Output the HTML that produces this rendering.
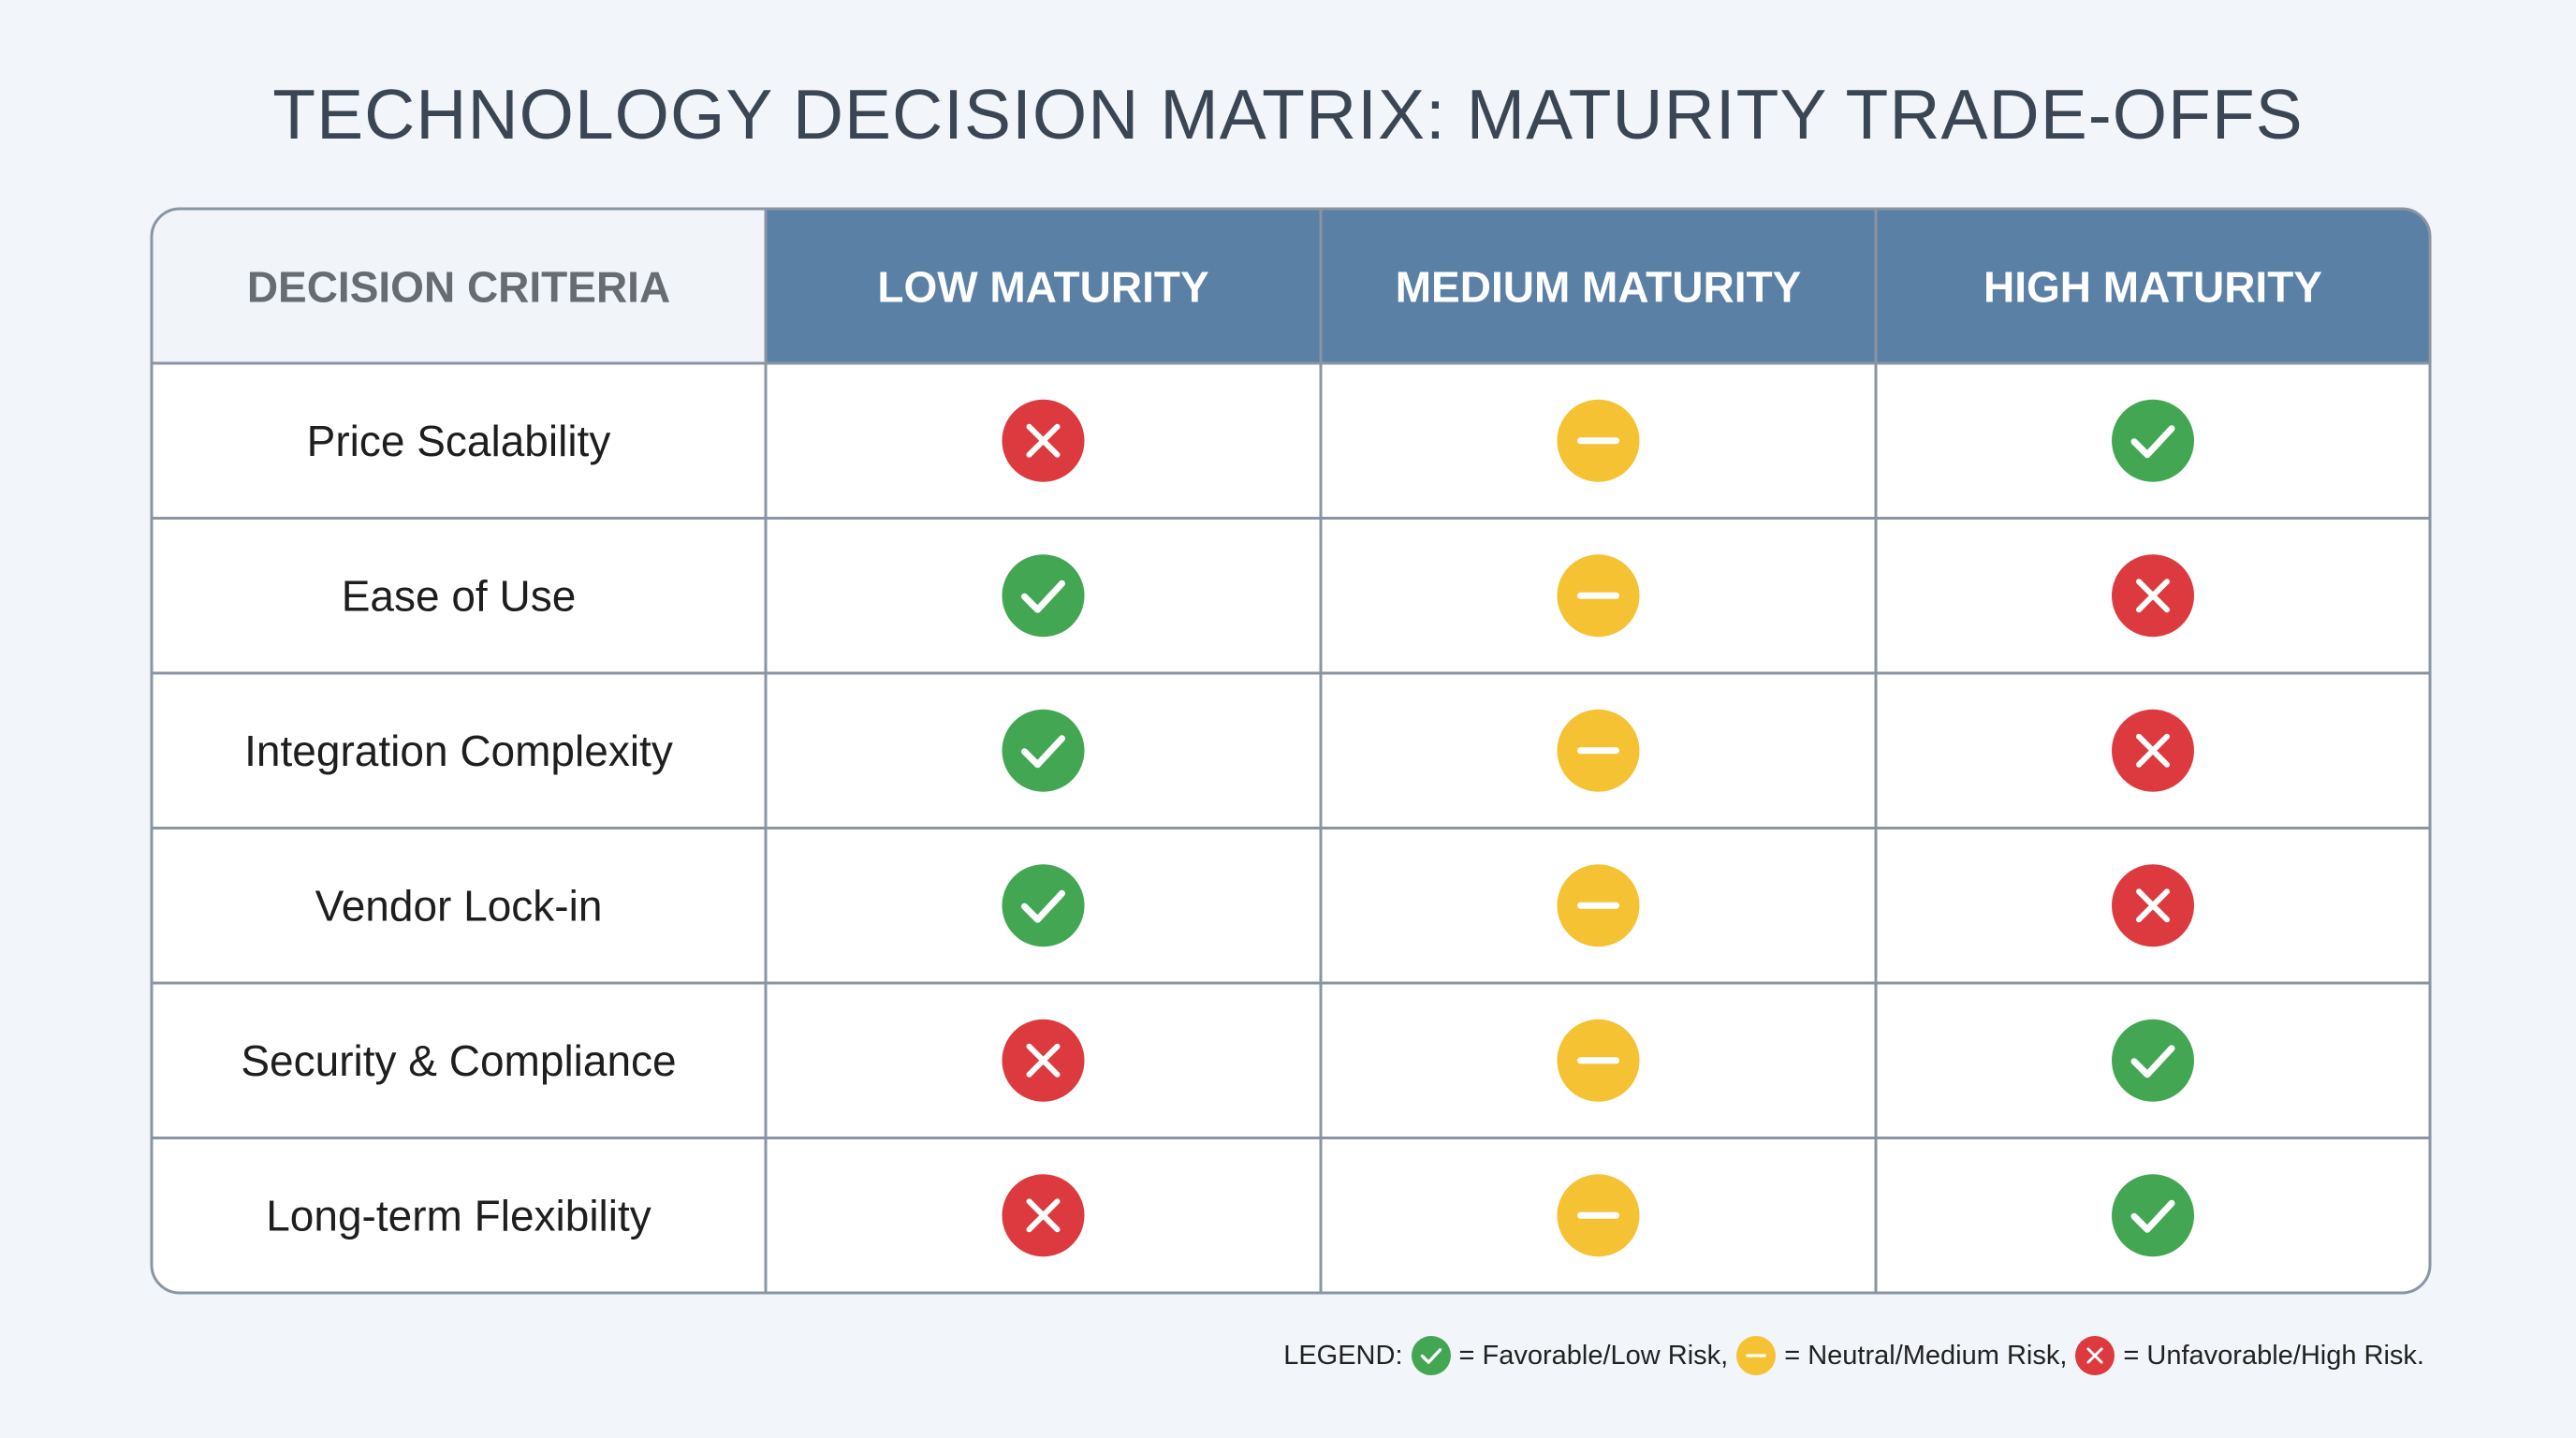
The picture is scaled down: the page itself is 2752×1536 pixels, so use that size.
<!DOCTYPE html>
<html><head><meta charset="utf-8">
<style>
html,body{margin:0;padding:0}
body{width:2752px;height:1536px;background:#f2f5f9;font-family:"Liberation Sans","DejaVu Sans",sans-serif;position:relative;overflow:hidden}
#title{position:absolute;left:0;top:72px;width:2752px;text-align:center;font-size:75px;color:#3b4654;letter-spacing:1px;line-height:100px}
#legend{position:absolute;right:162px;top:1426px;font-size:29px;color:#222;display:flex;align-items:center;height:44px;white-space:nowrap}
#legend svg{margin:0 8px;vertical-align:middle}
</style></head>
<body>
<div id="title">TECHNOLOGY DECISION MATRIX: MATURITY TRADE-OFFS</div>
<svg id="matrix" width="2752" height="1536" style="position:absolute;left:0;top:0"></svg>
<div id="legend"></div>
<script>
const criteria=["Price Scalability","Ease of Use","Integration Complexity","Vendor Lock-in","Security & Compliance","Long-term Flexibility"];
const columns=["LOW MATURITY","MEDIUM MATURITY","HIGH MATURITY"];
// 1 = favorable, 0 = neutral, -1 = unfavorable
const lowValues=[-1,1,1,1,-1,-1];
const mediumValues=[0,0,0,0,0,0];
const highValues=[1,-1,-1,-1,1,1];
const series=[lowValues,mediumValues,highValues];

const NS="http://www.w3.org/2000/svg";
const svg=document.getElementById('matrix');
const L=162,R=2596,T=223,B=1381,HB=388,CX=[162,818,1411,2004,2596];
const rowH=(B-HB)/criteria.length;
function rowY(i){return HB+i*rowH;}
function mk(tag,attrs,parent){const e=document.createElementNS(NS,tag);for(const k in attrs)e.setAttribute(k,attrs[k]);(parent||svg).appendChild(e);return e;}
function icon(parent,cx,cy,r,v){
  const g=mk('g',{},parent);
  const col=v>0?'#43a653':v<0?'#dc3a3e':'#f4c233';
  mk('circle',{cx:cx,cy:cy,r:r,fill:col},g);
  const s=r/44;
  if(v>0) mk('path',{d:`M${cx-20*s} ${cy+1*s} L${cx-6*s} ${cy+15*s} L${cx+20*s} ${cy-13*s}`,stroke:'#fff','stroke-width':7*s,fill:'none','stroke-linecap':'round','stroke-linejoin':'round'},g);
  else if(v<0) mk('path',{d:`M${cx-15*s} ${cy-15*s} L${cx+15*s} ${cy+15*s} M${cx+15*s} ${cy-15*s} L${cx-15*s} ${cy+15*s}`,stroke:'#fff','stroke-width':6*s,fill:'none','stroke-linecap':'round'},g);
  else mk('path',{d:`M${cx-19*s} ${cy} L${cx+19*s} ${cy}`,stroke:'#fff','stroke-width':7*s,'stroke-linecap':'round'},g);
  return g;
}
const defs=mk('defs',{});
const cp=mk('clipPath',{id:'clip'},defs);
mk('rect',{x:L,y:T,width:R-L,height:B-T,rx:30},cp);
const grp=mk('g',{'clip-path':'url(#clip)'});
mk('rect',{x:L,y:T,width:R-L,height:B-T,fill:'#ffffff'},grp);
mk('rect',{x:L,y:T,width:CX[1]-L,height:HB-T,fill:'#f1f4f8'},grp);
const hdr=mk('rect',{x:CX[1],y:T,width:R-CX[1],height:HB-T,fill:'#5b80a5'},grp);


const h0=mk('text',{x:(L+CX[1])/2,y:(T+HB)/2+17,'text-anchor':'middle','font-size':46,'font-weight':'bold',fill:'#676c72'});
h0.textContent='DECISION CRITERIA';


columns.forEach((c,j)=>{
  const t=mk('text',{x:(CX[j+1]+CX[j+2])/2,y:(T+HB)/2+17,'text-anchor':'middle','font-size':46,'font-weight':'bold',fill:'#ffffff'});
  t.textContent=c;
  
  
});
criteria.forEach((c,i)=>{
  const cy=rowY(i)+rowH/2;
  const t=mk('text',{x:(L+CX[1])/2,y:cy+16,'text-anchor':'middle','font-size':46,fill:'#1e1e1e'});
  t.textContent=c;
  
  
  series.forEach((vals,j)=>{
    const g=icon(svg,(CX[j+1]+CX[j+2])/2,cy,44,vals[i]);
    
    
  });
});
for(let i=0;i<criteria.length;i++){const y=rowY(i);mk('line',{x1:L,x2:R,y1:y,y2:y,stroke:'#8a95a3','stroke-width':3});}
for(let j=1;j<CX.length-1;j++)mk('line',{x1:CX[j],x2:CX[j],y1:T,y2:B,stroke:'#8a95a3','stroke-width':3});
mk('rect',{x:L,y:T,width:R-L,height:B-T,rx:30,fill:'none',stroke:'#8a95a3','stroke-width':3});

const leg=document.getElementById('legend');
function legIcon(v){const s=document.createElementNS(NS,'svg');s.setAttribute('width',44);s.setAttribute('height',44);icon(s,22,22,21,v);return s;}
leg.append('LEGEND:');leg.appendChild(legIcon(1));leg.append('= Favorable/Low Risk,');
leg.appendChild(legIcon(0));leg.append('= Neutral/Medium Risk,');
leg.appendChild(legIcon(-1));leg.append('= Unfavorable/High Risk.');
</script>
</body></html>
